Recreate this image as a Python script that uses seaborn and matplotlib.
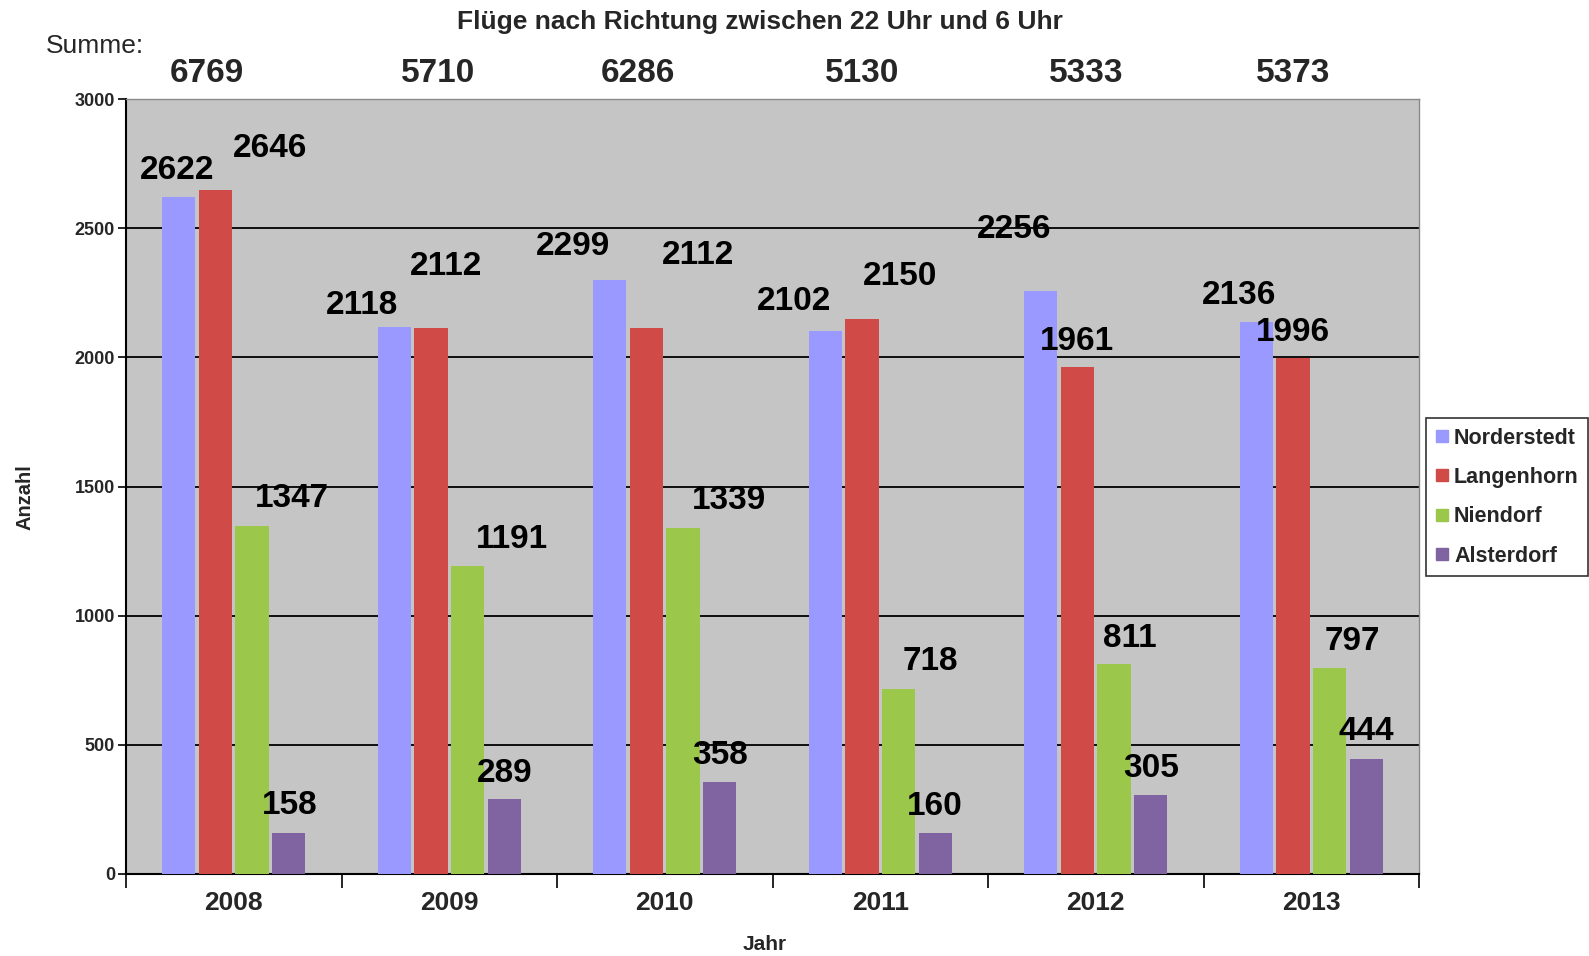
import matplotlib
matplotlib.use("Agg")
import matplotlib.pyplot as plt
from matplotlib.lines import Line2D
import seaborn as sns
import pandas as pd

# ---- data ----
years = ["2008", "2009", "2010", "2011", "2012", "2013"]
series = ["Norderstedt", "Langenhorn", "Niendorf", "Alsterdorf"]
norderstedt = [2622, 2118, 2299, 2102, 2256, 2136]
langenhorn = [2646, 2112, 2112, 2150, 1961, 1996]
niendorf = [1347, 1191, 1339, 718, 811, 797]
alsterdorf = [158, 289, 358, 160, 305, 444]
totals = ["6769", "5710", "6286", "5130", "5333", "5373"]

colors = ["#9999ff", "#d04a47", "#9bc84b", "#8064a2"]

# label nudges (pixels) relative to the top centre of each bar
nudge_dx = [
    [-2, -32, -36, -31, -26, -17],
    [54, 15, 51, 38, 0, 0],
    [39, 44, 45, 31, 16, 23],
    [1, 0, 0, 0, 0, 0],
]
nudge_dy = [
    [26, 21, 33, 29, 61, 26],
    [41, 61, 72, 42, 26, 26],
    [27, 26, 27, 27, 26, 26],
    [27, 26, 26, 26, 26, 27],
]
total_dx = [-27, -11, -26, -18, -9, -18]

values = [norderstedt, langenhorn, niendorf, alsterdorf]
df = pd.DataFrame(
    [(y, s, v[i]) for s, v in zip(series, values) for i, y in enumerate(years)],
    columns=["Jahr", "Richtung", "Anzahl"],
)

sns.set_theme(style="white")
plt.rcParams["font.family"] = ["Liberation Sans", "DejaVu Sans"]

fig = plt.figure(figsize=(15.89, 9.56), dpi=100)
ax = fig.add_axes([126 / 1589, 82 / 956, 1293 / 1589, 775 / 956])
ax.set_facecolor("#c5c5c5")

sns.barplot(
    data=df, x="Jahr", y="Anzahl", hue="Richtung", order=years,
    hue_order=series, palette=colors, saturation=1, width=0.68, gap=0.09,
    legend=False, ax=ax, zorder=3, linewidth=0,
)

ax.set_ylim(0, 3000)
ax.set_xlim(-0.5, len(years) - 0.5)
ax.set_yticks(range(0, 3001, 500))
ax.yaxis.grid(True, color="black", linewidth=1.3, zorder=1)
ax.set_axisbelow(True)

for lab in ax.get_yticklabels():
    lab.set_fontweight("bold")
    lab.set_fontsize(13)
ax.tick_params(axis="y", which="major", left=True, length=6, width=1.2,
               color="black", pad=2)
ax.tick_params(axis="x", which="major", bottom=False, pad=6)
ax.set_xticks(range(len(years)))
ax.set_xticklabels(years, fontsize=19, fontweight="bold")
ax.set_xticks([i - 0.5 for i in range(len(years) + 1)], minor=True)
ax.tick_params(axis="x", which="minor", bottom=True, length=10, width=1.2,
               color="black")

for side in ("left", "bottom"):
    ax.spines[side].set_color("black")
    ax.spines[side].set_linewidth(1.5)
for side in ("top", "right"):
    ax.spines[side].set_color("#8a8a8a")
    ax.spines[side].set_linewidth(1.0)

ax.set_xlabel("")
ax.set_ylabel("")

# value labels above bars
for k, cont in enumerate(ax.containers):
    for i, bar in enumerate(cont):
        xc = bar.get_x() + bar.get_width() / 2
        ax.annotate(
            f"{values[k][i]}", xy=(xc, bar.get_height()),
            xytext=(nudge_dx[k][i] * 1.013, nudge_dy[k][i] * 1.013),
            textcoords="offset pixels", ha="center", va="center",
            fontsize=24, fontweight="bold", color="black", zorder=5,
            annotation_clip=False,
        )

# yearly totals above the plot area
for i, t in enumerate(totals):
    ax.annotate(
        t, xy=(i, 1.0), xycoords=("data", "axes fraction"),
        xytext=(total_dx[i] * 1.013, 25), textcoords="offset pixels",
        ha="center", va="center", fontsize=24, fontweight="bold",
        annotation_clip=False,
    )

fig.text(760 / 1589, 1 - 22 / 956, "Flüge nach Richtung zwischen 22 Uhr und 6 Uhr",
         ha="center", va="center", fontsize=19, fontweight="bold")
fig.text(46 / 1589, 1 - 46 / 956, "Summe:", ha="left", va="center", fontsize=19)
fig.text(25 / 1589, 1 - 497 / 956, "Anzahl", ha="center", va="center",
         rotation=90, fontsize=14.5, fontweight="bold")
fig.text(765 / 1589, 1 - 944 / 956, "Jahr", ha="center", va="center",
         fontsize=15, fontweight="bold")

handles = [Line2D([0], [0], marker="s", linestyle="none", markersize=8,
                  markerfacecolor=c, markeredgecolor=c) for c in colors]
leg = fig.legend(
    handles, series, loc="upper left",
    bbox_to_anchor=(1426 / 1589, 1 - 418 / 956), frameon=True, fancybox=False,
    prop={"weight": "bold", "size": 15.5}, handlelength=0.55, handletextpad=0.3,
    labelspacing=0.85, borderpad=0.45, borderaxespad=0,
)
leg.get_frame().set_edgecolor("black")
leg.get_frame().set_linewidth(1.2)

fig.savefig("out.png", dpi=100, facecolor="white")
